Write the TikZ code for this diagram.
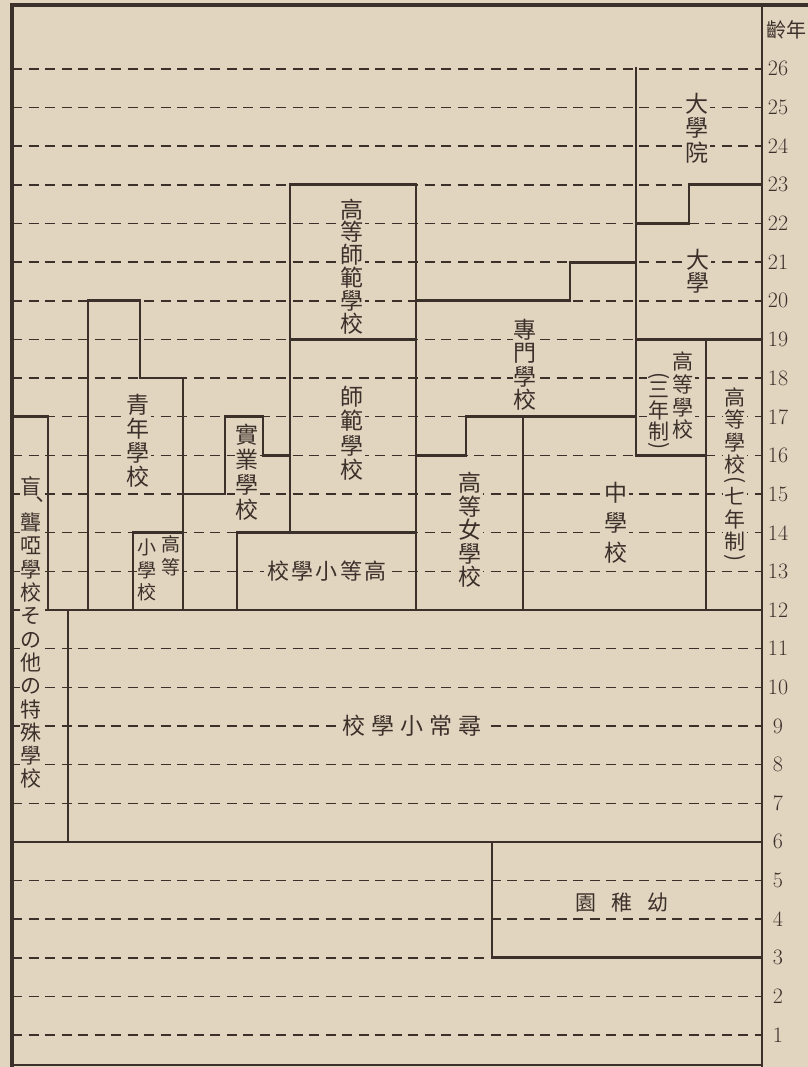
\documentclass[tikz,border=0pt]{standalone}
\usepackage{fontspec}
\usepackage{graphicx}
\newfontfamily\cjk{Noto Sans CJK TC}
\definecolor{paper}{RGB}{225,213,192}
\definecolor{ink}{RGB}{60,48,43}
\tikzset{
  wall/.style={draw=ink, line width=2.8pt, line cap=rect},
  frame/.style={draw=ink, line width=3.6pt, line cap=rect},
  dashline/.style={draw=ink, line width=1.5pt, dash pattern=on 10pt off 6.5pt},
  vt/.style={fill=paper, inner sep=1pt, text=ink, align=center},
  ht/.style={fill=paper, inner xsep=3pt, inner ysep=1pt, text=ink},
  agelabel/.style={text=ink, inner sep=0pt, font=\fontsize{22}{22}\selectfont},
}
\newcommand{\cjkf}[2]{\cjk\fontsize{#1}{#2}\selectfont}
\newcommand{\vlp}{\rotatebox[origin=c]{-90}{(}}
\newcommand{\vrp}{\rotatebox[origin=c]{-90}{)}}
\begin{document}
\begin{tikzpicture}[x=1pt,y=38.65pt]
\useasboundingbox (0,0.176) rectangle (808,27.783);
\fill[paper] (0,0.176) rectangle (808,27.783);

% dashed year lines
\foreach \n in {1,...,26} {
  \draw[dashline] (12,\n) -- (762,\n);
}

% age labels
\foreach \n in {1,...,26} {
  \node[agelabel] (age\n) at (778,\n) {\n};
}
\node[text=ink, inner sep=0pt, font=\cjkf{20}{20}] (agehead) at (786,27.007) {齡年};

% vertical texts
\node[vt, font=\cjkf{23}{24.5}] (daigakuin) at (697,24.47) {大\\學\\院};
\node[vt, font=\cjkf{23}{23.5}] (daigaku) at (698,20.77) {大\\學};
\node[vt, font=\cjkf{23}{22.8}] (koshihan) at (352,20.89) {高\\等\\師\\範\\學\\校};
\node[vt, font=\cjkf{23}{24.3}] (shihan) at (352,16.57) {師\\範\\學\\校};
\node[vt, font=\cjkf{23}{23.5}] (senmon) at (525,18.34) {專\\門\\學\\校};
\node[vt, font=\cjkf{23}{23.5}] (jogakko) at (470,14.07) {高\\等\\女\\學\\校};
\node[vt, font=\cjkf{23}{30}] (chugakko) at (616,14.25) {中\\學\\校};
\node[vt, font=\cjkf{21}{22.7}] (koto3a) at (683,17.54) {高\\等\\學\\校};
\node[vt, font=\cjkf{21}{21}] (koto3b) at (659,17.12) {\vlp\\[-6pt]三\\年\\制\\[-8pt]\vrp};
\node[vt, font=\cjkf{21}{22.5}] (koto7) at (735,15.47) {高\\等\\學\\校\\[-9pt]\vlp\\[-4pt]七\\年\\制\\[-8pt]\vrp};
\node[vt, font=\cjkf{23}{25}] (jitsugyo) at (247,15.56) {實\\業\\學\\校};
\node[vt, font=\cjkf{23}{24}] (seinen) at (138,16.37) {青\\年\\學\\校};
\node[vt, font=\cjkf{19}{23}] (kotoa) at (171,13.40) {高\\等};
\node[vt, font=\cjkf{19}{22.5}] (kotob) at (147,13.03) {小\\學\\校};
\node[vt, font=\cjkf{21}{23.3}] (tokushu) at (31,11.42) {盲\\[-10pt]\makebox[21pt][l]{\hspace{9pt}、}\\聾\\啞\\學\\校\\そ\\の\\他\\の\\特\\殊\\學\\校};

% horizontal texts
\node[ht, font=\cjkf{22}{22}] (kotosho) at (327,13) {校\hspace{2.5pt}學\hspace{2.5pt}小\hspace{2.5pt}等\hspace{2.5pt}高};
\node[ht, font=\cjkf{23}{23}] (jinjo) at (412,9) {校\hspace{6pt}學\hspace{6pt}小\hspace{6pt}常\hspace{6pt}尋};
\node[ht, font=\cjkf{21}{21}] (yochien) at (622,4.42) {園\hspace{15pt}稚\hspace{15pt}幼};

% frame
\draw[frame] (12,0.176) -- (12,27.654) -- (808,27.654);
\draw[wall] (762,27.654) -- (762,0.176);
\draw[wall] (12,0.228) -- (762,0.228);

% special schools
\draw[wall] (12,17) -- (48,17) -- (48,12);
\draw[wall] (68,12) -- (68,6);
% year 12 and year 6
\draw[wall] (48,12) -- (762,12);
\draw[wall] (12,6) -- (762,6);
% kindergarten
\draw[wall] (492,6) -- (492,3) -- (762,3);
% youth school
\draw[wall] (88,12) -- (88,20) -- (140,20) -- (140,18) -- (183,18) -- (183,12);
\draw[wall] (133,12) -- (133,14) -- (183,14);
% vocational
\draw[wall] (183,15) -- (225,15) -- (225,17) -- (263,17) -- (263,16) -- (290,16);
% higher elementary
\draw[wall] (237,12) -- (237,14) -- (416,14);
% normal schools
\draw[wall] (290,14) -- (290,23) -- (416,23) -- (416,12);
\draw[wall] (290,19) -- (416,19);
% technical colleges
\draw[wall] (416,20) -- (570,20) -- (570,21) -- (636,21);
\draw[wall] (416,16) -- (466,16) -- (466,17) -- (636,17);
\draw[wall] (523,17) -- (523,12);
% universities / high schools
\draw[wall] (636,26) -- (636,16) -- (706,16);
\draw[wall] (636,22) -- (689,22) -- (689,23) -- (762,23);
\draw[wall] (636,19) -- (762,19);
\draw[wall] (706,19) -- (706,12);
\end{tikzpicture}
\end{document}
